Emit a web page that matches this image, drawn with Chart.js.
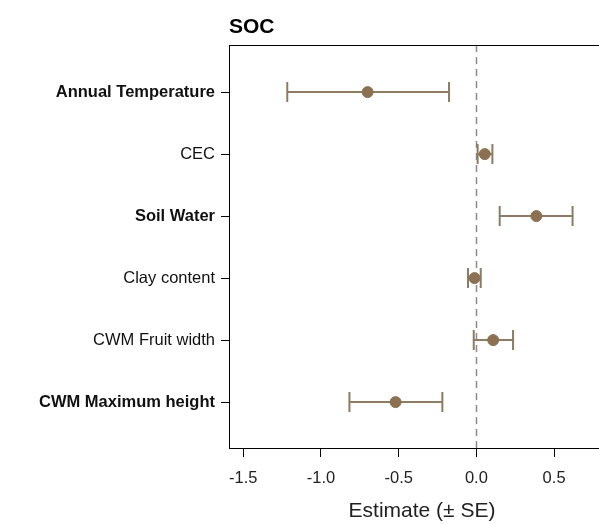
<!DOCTYPE html>
<html>
<head>
<meta charset="utf-8">
<script src="https://cdn.jsdelivr.net/npm/chart.js@4"></script>
<style>
  html, body { margin:0; padding:0; background:#fff; overflow:hidden; }
  .wrap { position:relative; width:640px; height:524px; }
</style>
</head>
<body>
<div class="wrap"><canvas id="forest"></canvas></div>
<script>
const categories = ['Annual Temperature','CEC','Soil Water','Clay content','CWM Fruit width','CWM Maximum height'];
const boldRows = [true, false, true, false, false, true];
const estimates = [-0.70, 0.054, 0.386, -0.012, 0.108, -0.52];
const lowerSE = [-1.217, 0.008, 0.150, -0.054, -0.017, -0.817];
const upperSE = [-0.176, 0.103, 0.619, 0.028, 0.236, -0.219];
const xTicks = [-1.5, -1.0, -0.5, 0.0, 0.5];

const pointColor = '#8b7152';
const barColor = '#8d7b63';
const font = 'Liberation Sans, Arial, sans-serif';

(function(){
  const el = document.getElementById('forest');

  const errorBars = {
    id: 'errorBars',
    beforeDatasetsDraw(c){
      const {ctx, scales:{x, y}, chartArea} = c;
      ctx.save();
      // zero reference line
      ctx.strokeStyle = '#8a8a8a';
      ctx.lineWidth = 1.5;
      ctx.setLineDash([7,5]);
      ctx.beginPath();
      ctx.moveTo(Math.round(x.getPixelForValue(0)) + 0.5, chartArea.top);
      ctx.lineTo(Math.round(x.getPixelForValue(0)) + 0.5, chartArea.bottom);
      ctx.stroke();
      ctx.setLineDash([]);
      // whiskers + caps
      ctx.strokeStyle = barColor;
      ctx.lineWidth = 2;
      categories.forEach((cat, i)=>{
        const py = y.getPixelForValue(i + 1);
        const x1 = x.getPixelForValue(lowerSE[i]);
        const x2 = x.getPixelForValue(upperSE[i]);
        ctx.beginPath();
        ctx.moveTo(x1, py); ctx.lineTo(x2, py);
        ctx.moveTo(x1, py - 10); ctx.lineTo(x1, py + 10);
        ctx.moveTo(x2, py - 10); ctx.lineTo(x2, py + 10);
        ctx.stroke();
      });
      ctx.restore();
    },
    afterDraw(c){
      const {ctx, chartArea} = c;
      ctx.save();
      ctx.strokeStyle = '#000';
      ctx.lineWidth = 1;
      ctx.beginPath();
      ctx.moveTo(chartArea.left, chartArea.top + 0.5);
      ctx.lineTo(chartArea.right, chartArea.top + 0.5);
      ctx.stroke();
      ctx.fillStyle = '#000';
      ctx.font = 'bold 21px ' + font;
      ctx.textAlign = 'left';
      ctx.textBaseline = 'alphabetic';
      ctx.fillText('SOC', chartArea.left, 32.5);
      ctx.restore();
    }
  };

  new Chart(el, {
    type: 'scatter',
    data: {
      datasets: [{
        data: estimates.map((v, i)=>({x: v, y: i + 1})),
        backgroundColor: pointColor,
        borderColor: pointColor,
        pointRadius: 5.5,
        pointHoverRadius: 5.5
      }]
    },
    options: {
      responsive: true,
      maintainAspectRatio: false,
      animation: false,
      layout: { padding: { top: 45, right: 25, left: 0, bottom: 0 } },
      scales: {
        x: {
          min: -1.592, max: 0.892,
          afterFit: s => { s.height = 76; },
          afterBuildTicks: s => { s.ticks = xTicks.map(v => ({value: v})); },
          grid: { drawOnChartArea: false, tickLength: 9, color: '#000', tickWidth: 1 },
          border: { color: '#000', width: 1 },
          ticks: { color: '#222', font: { family: font, size: 16.5 }, padding: 12,
                   callback: v => Number(v).toFixed(1) },
          title: { display: true, text: 'Estimate (\u00b1 SE)', color: '#222',
                   font: { family: font, size: 21 }, padding: { top: 10, bottom: 0 } }
        },
        y: {
          reverse: true,
          min: 0.24, max: 6.74,
          afterFit: s => { s.width = 229; },
          afterBuildTicks: s => { s.ticks = categories.map((c, i) => ({value: i + 1})); },
          grid: { drawOnChartArea: false, tickLength: 8, color: '#000' },
          border: { color: '#000', width: 1 },
          ticks: {
            color: '#111',
            padding: 6,
            font: ctx => ({ family: font, size: 16.5, weight: boldRows[ctx.index] ? 'bold' : 'normal' }),
            callback: (v, i) => categories[i]
          }
        }
      },
      plugins: {
        legend: { display: false },
        tooltip: { enabled: false }
      }
    },
    plugins: [errorBars]
  });
})();
</script>
</body>
</html>
